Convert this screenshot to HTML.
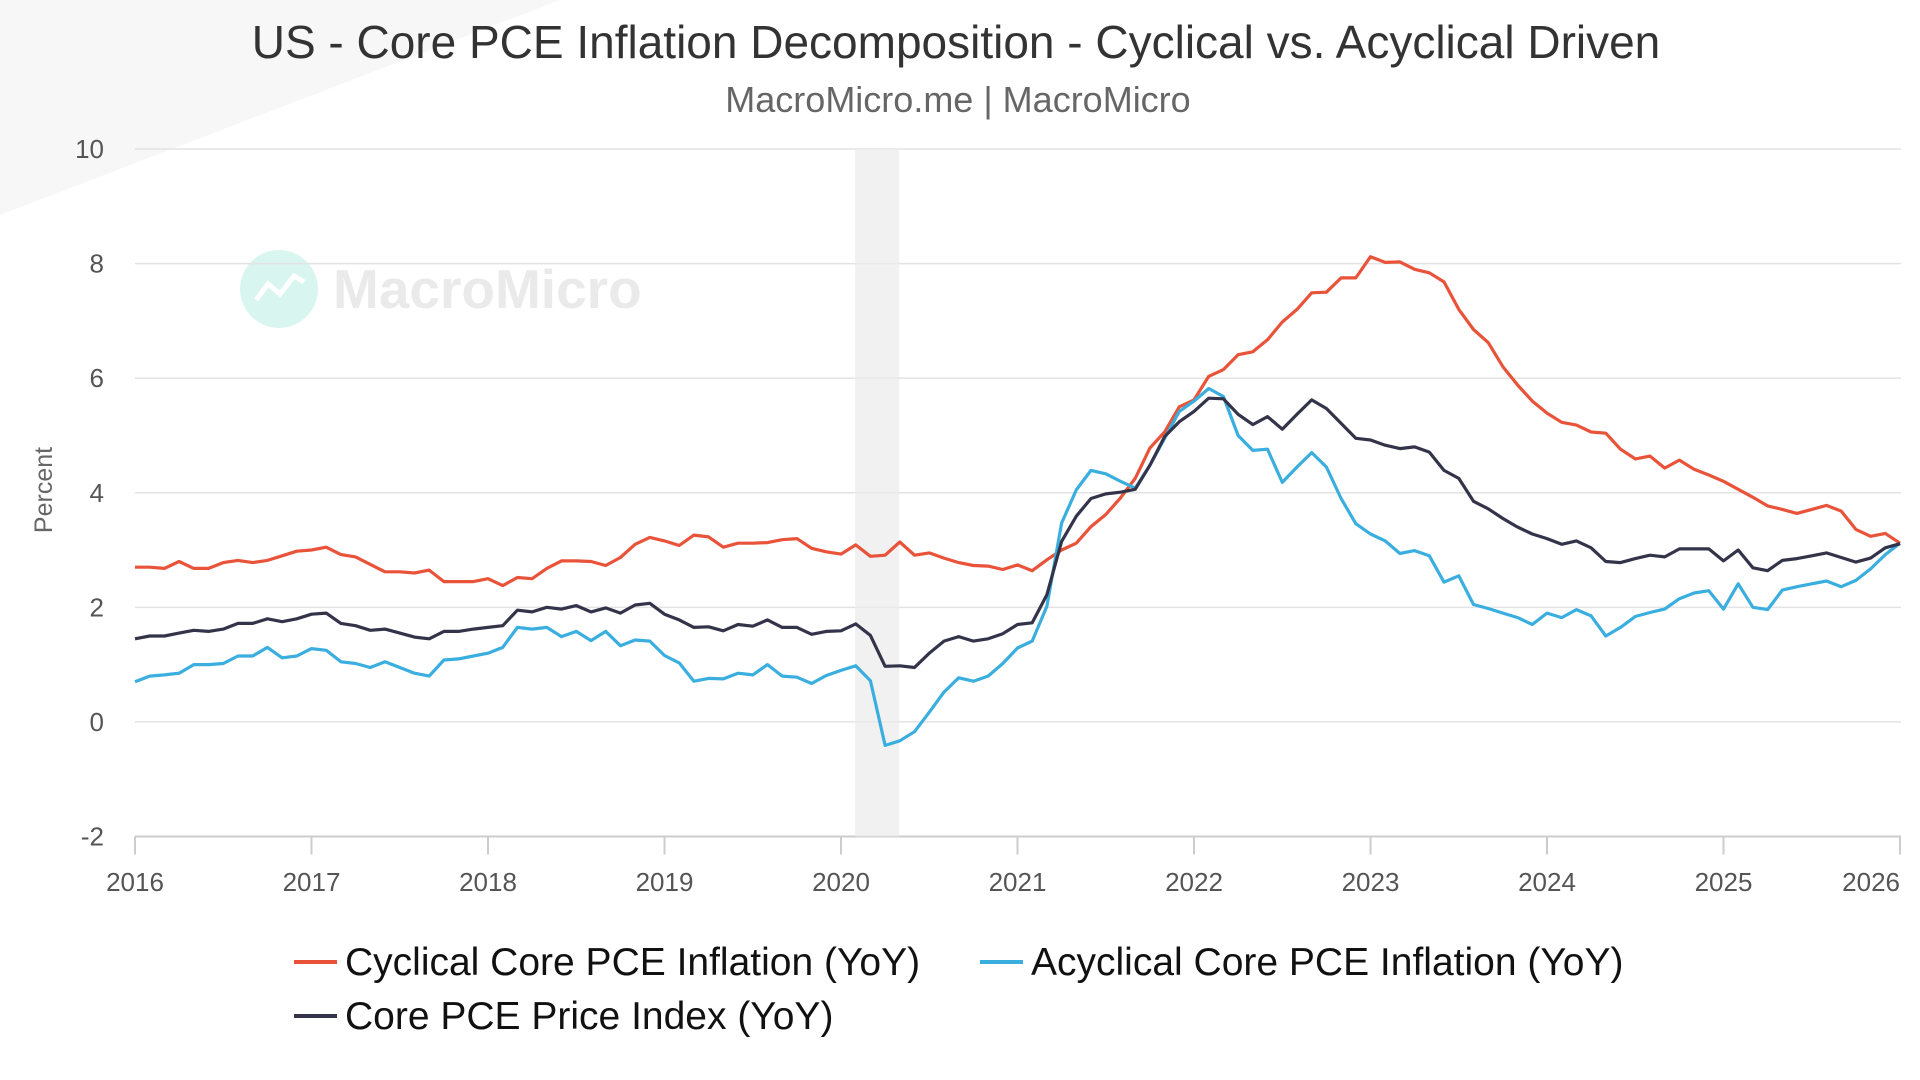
<!DOCTYPE html>
<html><head><meta charset="utf-8">
<style>
html,body{margin:0;padding:0;background:#fff;}
svg{display:block;font-family:"Liberation Sans",sans-serif;}
</style></head>
<body>
<svg id="chart" width="1920" height="1080" viewBox="0 0 1920 1080">
  <polygon points="0,0 560,0 0,215" fill="#f7f7f7"/>
  <text x="956" y="58" text-anchor="middle" font-size="46" fill="#333">US - Core PCE Inflation Decomposition - Cyclical vs. Acyclical Driven</text>
  <text x="958" y="112" text-anchor="middle" font-size="36" fill="#666">MacroMicro.me | MacroMicro</text>
  <g opacity="0.9">
    <circle cx="279" cy="289" r="39" fill="#d5f5ee"/>
    <polyline points="256,300 268,284 280,294 294,276 304,282" fill="none" stroke="#fff" stroke-width="5"/>
    <text x="333" y="308" font-size="55" font-weight="bold" fill="#e8e8e8">MacroMicro</text>
  </g>
  <g id="grid"></g>
  <rect id="recession" fill="#ebebeb" opacity="0.7"/>
  <g id="yticks"></g>
  <g id="xticks"></g>
  <text transform="translate(52,490) rotate(-90)" text-anchor="middle" font-size="25" fill="#666">Percent</text>
  <g id="series"></g>
  <g>
    <g>
      <line x1="294" y1="962" x2="337" y2="962" stroke="#e8533a" stroke-width="4"/>
      <text x="345" y="975" font-size="39" fill="#111">Cyclical Core PCE Inflation (YoY)</text>
    </g>
    <g>
      <line x1="980" y1="962" x2="1023" y2="962" stroke="#3aaedf" stroke-width="4"/>
      <text x="1031" y="975" font-size="39" fill="#111">Acyclical Core PCE Inflation (YoY)</text>
    </g>
    <g>
      <line x1="294" y1="1016" x2="337" y2="1016" stroke="#33344a" stroke-width="4"/>
      <text x="345" y="1029" font-size="39" fill="#111">Core PCE Price Index (YoY)</text>
    </g>
  </g>
</svg>
<script>
const yTicks = [-2, 0, 2, 4, 6, 8, 10];
const xTickYears = [2016, 2017, 2018, 2019, 2020, 2021, 2022, 2023, 2024, 2025, 2026];
const startYear = 2016;
const recessionStart = 2020.08;
const recessionEnd = 2020.33;
const cyclical = [
2.7,2.7,2.68,2.8,2.68,2.68,2.78,2.82,2.78,2.82,2.9,2.98,
3.0,3.05,2.92,2.88,2.75,2.62,2.62,2.6,2.65,2.45,2.45,2.45,
2.5,2.38,2.52,2.5,2.68,
2.81,2.81,2.8,2.73,2.87,3.1,3.22,3.16,3.08,3.26,3.23,3.05,3.12,3.12,3.13,3.18,3.2,3.03,2.97,2.93,
3.09,2.89,2.91,3.14,2.91,2.95,2.86,2.78,2.73,2.72,2.66,2.74,2.64,2.83,3.0,3.12,3.41,3.62,3.91,4.25,4.78,5.06,5.5,5.62,6.03,6.15,6.41,
6.46,6.67,6.98,7.2,7.49,7.5,7.75,7.75,8.12,8.02,8.03,7.9,7.84,7.68,7.2,
6.85,6.62,6.2,5.88,5.6,
5.39,5.23,5.18,5.06,5.04,4.76,4.59,4.64,4.43,4.57,4.41,4.31,4.2,4.06,3.92,3.77,3.71,3.64,3.71,3.78,3.68,3.36,3.24,3.29,3.12];
const acyclical = [
0.7,0.8,0.82,0.85,1.0,1.0,1.02,1.15,1.15,1.3,1.12,1.15,
1.28,1.25,1.05,1.02,0.95,1.05,0.95,0.85,0.8,1.08,1.1,1.15,
1.2,1.3,1.65,1.62,1.65,
1.49,1.58,1.42,1.58,1.33,1.43,1.41,1.16,1.03,0.71,0.76,0.75,0.85,0.82,1.0,0.8,0.78,0.67,0.81,0.9,
0.98,0.72,-0.41,-0.33,-0.17,0.17,0.52,0.77,0.71,0.8,1.02,1.29,1.41,2.02,3.47,4.05,4.39,4.33,4.2,4.08,4.48,4.95,5.42,5.6,5.82,5.68,5.0,
4.74,4.76,4.18,4.45,4.7,4.45,3.9,3.46,3.28,3.16,2.94,2.99,2.9,2.44,2.55,
2.05,1.98,1.9,1.82,1.7,
1.9,1.82,1.96,1.85,1.5,1.65,1.84,1.91,1.97,2.15,2.25,2.29,1.97,2.41,2.0,1.96,2.3,2.36,2.41,2.46,2.36,2.47,2.67,2.92,3.12];
const core = [
1.45,1.5,1.5,1.55,1.6,1.58,1.62,1.72,1.72,1.8,1.75,1.8,
1.88,1.9,1.72,1.68,1.6,1.62,1.55,1.48,1.45,1.58,1.58,1.62,
1.65,1.68,1.95,1.92,2.0,
1.97,2.03,1.92,1.99,1.9,2.04,2.07,1.88,1.78,1.65,1.66,1.59,1.7,1.67,1.78,1.65,1.65,1.53,1.58,1.59,
1.71,1.51,0.97,0.98,0.95,1.2,1.41,1.49,1.41,1.45,1.54,1.7,1.73,2.22,3.15,3.59,3.9,3.98,4.01,4.06,4.48,4.98,5.24,5.42,5.65,5.64,5.37,
5.19,5.33,5.11,5.37,5.62,5.47,5.21,4.95,4.92,4.83,4.77,4.8,4.71,4.39,4.25,
3.85,3.72,3.55,3.4,3.28,
3.2,3.1,3.16,3.04,2.8,2.78,2.85,2.91,2.88,3.02,3.02,3.02,2.81,3.0,2.69,2.64,2.82,2.85,2.9,2.95,2.87,2.79,2.86,3.04,3.11];

const X0 = 135, PX_PER_YEAR = 176.5, PLOT_RIGHT = 1901;
const Y_TOP = 149, Y_BOTTOM = 836.5, VMIN = -2, VMAX = 10;
function xScale(year){ return X0 + (year - 2016) * PX_PER_YEAR; }
function yScale(v){ return Y_BOTTOM - (v - VMIN) / (VMAX - VMIN) * (Y_BOTTOM - Y_TOP); }
function monthYear(i){ return startYear + i / 12; }
const NS = 'http://www.w3.org/2000/svg';

const grid = document.getElementById('grid');
const yt = document.getElementById('yticks');
yTicks.forEach(v => {
  const l = document.createElementNS(NS, 'line');
  l.setAttribute('x1', X0); l.setAttribute('x2', PLOT_RIGHT);
  l.setAttribute('y1', yScale(v)); l.setAttribute('y2', yScale(v));
  l.setAttribute('stroke', v === VMIN ? '#cccccc' : '#e3e3e3');
  l.setAttribute('stroke-width', v === VMIN ? 2 : 1.5);
  
  
  grid.appendChild(l);
  const t = document.createElementNS(NS, 'text');
  t.setAttribute('x', 104); t.setAttribute('y', yScale(v) + 9);
  t.setAttribute('text-anchor', 'end'); t.setAttribute('font-size', '26'); t.setAttribute('fill', '#555');
  t.textContent = v;
  
  
  yt.appendChild(t);
});

const xt = document.getElementById('xticks');
xTickYears.forEach(yr => {
  const x = xScale(yr);
  const l = document.createElementNS(NS, 'line');
  l.setAttribute('x1', x); l.setAttribute('x2', x);
  l.setAttribute('y1', Y_BOTTOM); l.setAttribute('y2', Y_BOTTOM + 18);
  l.setAttribute('stroke', '#cccccc'); l.setAttribute('stroke-width', 2);
  
  
  xt.appendChild(l);
  const t = document.createElementNS(NS, 'text');
  t.setAttribute('x', Math.min(x, 1900)); t.setAttribute('y', 891);
  t.setAttribute('text-anchor', yr === 2026 ? 'end' : 'middle');
  t.setAttribute('font-size', '26'); t.setAttribute('fill', '#555');
  t.textContent = yr;
  
  
  xt.appendChild(t);
});

const rec = document.getElementById('recession');
rec.setAttribute('x', xScale(recessionStart));
rec.setAttribute('width', xScale(recessionEnd) - xScale(recessionStart));
rec.setAttribute('y', Y_TOP);
rec.setAttribute('height', Y_BOTTOM - Y_TOP);

const sg = document.getElementById('series');
function drawLine(vals, color, name){
  const p = document.createElementNS(NS, 'polyline');
  p.setAttribute('points', vals.map((v,i) => xScale(monthYear(i)).toFixed(1) + ',' + yScale(v).toFixed(1)).join(' '));
  p.setAttribute('fill', 'none'); p.setAttribute('stroke', color);
  p.setAttribute('stroke-width', 3.2); p.setAttribute('stroke-linejoin', 'round');
  
  
  sg.appendChild(p);
}
drawLine(cyclical, '#e8533a', 'cyclical-line');
drawLine(acyclical, '#3aaedf', 'acyclical-line');
drawLine(core, '#33344a', 'core-pce-line');
</script>
</body></html>
